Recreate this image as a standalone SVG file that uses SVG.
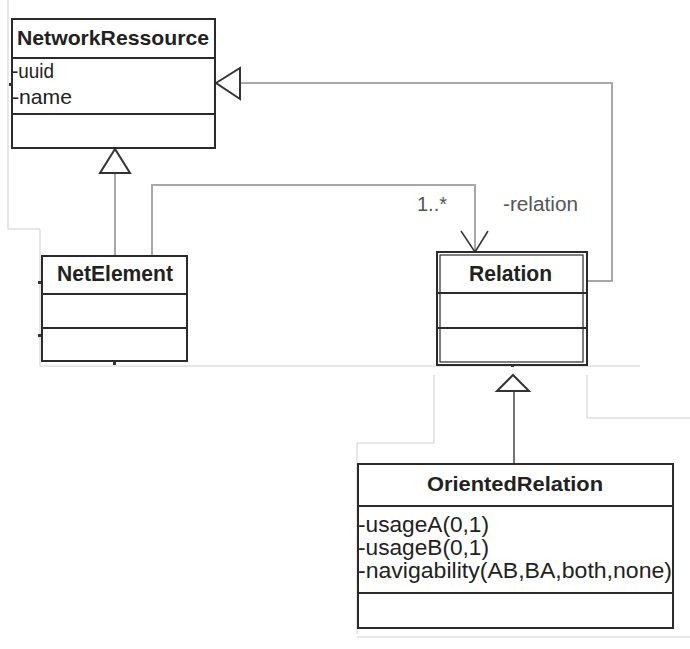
<svg xmlns="http://www.w3.org/2000/svg" width="690" height="649" viewBox="0 0 690 649">
  <style>
    .box { fill: #ffffff; stroke: #2b2b2b; stroke-width: 2; }
    .div { stroke: #2b2b2b; stroke-width: 2; fill: none; }
    .title { font-family: "Liberation Sans", Arial, sans-serif; font-weight: bold; fill: #222; }
    .attr { font-family: "Liberation Sans", Arial, sans-serif; fill: #222; }
    .label { font-family: "Liberation Sans", Arial, sans-serif; fill: #555; font-size: 20px; }
    .edge { stroke: #a8a8a8; stroke-width: 2; fill: none; }
    .edge-dark { stroke: #444; stroke-width: 1.5; fill: none; }
    .gen { fill: #ffffff; stroke: #333; stroke-width: 2; }
    .open { fill: none; stroke: #333; stroke-width: 1.5; }
    .frame { stroke: #cfcfcf; stroke-width: 1; fill: none; }
    .tick { fill: #333; }
  </style>

  <!-- page frame edges -->
  <g id="frame">
    <polyline class="frame" points="8,0 8,229 40,229 40,366 640,366"/>
    <polyline class="frame" points="434,375 434,443 357,443 357,634"/>
    <polyline class="frame" points="357,637 690,637"/>
    <polyline class="frame" points="587,375 587,418 690,418"/>
  </g>

  <!-- connectors -->
  <g id="connectors">
    <!-- NetElement generalizes NetworkRessource -->
    <line class="edge" x1="115" y1="256" x2="115" y2="173"/>
    <polygon class="gen" points="115,149 100,173 130,173"/>
    <!-- NetElement to Relation association -->
    <polyline class="edge" points="152,256 152,185 475,185 475,251"/>
    <polyline class="open" points="461,231 475,252 488,231"/>
    <!-- Relation generalizes NetworkRessource -->
    <polyline class="edge" points="587,281 612,281 612,83 240,83"/>
    <polygon class="gen" points="216,83 240,68 240,99"/>
    <!-- OrientedRelation generalizes Relation -->
    <line class="edge-dark" x1="514" y1="464" x2="514" y2="391"/>
    <polygon class="gen" points="513,375 497,391 529,391"/>
    <text class="label" x="417" y="211" textLength="30" lengthAdjust="spacingAndGlyphs">1..*</text>
    <text class="label" x="503" y="211" textLength="75" lengthAdjust="spacingAndGlyphs">-relation</text>
  </g>

  <!-- NetworkRessource -->
  <g id="NetworkRessource">
    <rect class="box" x="12" y="19" width="203" height="129"/>
    <line class="div" x1="12" y1="58" x2="215" y2="58"/>
    <line class="div" x1="12" y1="114" x2="215" y2="114"/>
    <text class="title" x="17" y="45" font-size="21" textLength="192" lengthAdjust="spacingAndGlyphs">NetworkRessource</text>
    <text class="attr" x="12" y="78" font-size="21" textLength="42" lengthAdjust="spacingAndGlyphs">-uuid</text>
    <text class="attr" x="12" y="104" font-size="21" textLength="60" lengthAdjust="spacingAndGlyphs">-name</text>
    <rect class="tick" x="9" y="83" width="3" height="3"/>
  </g>

  <!-- NetElement -->
  <g id="NetElement">
    <rect class="box" x="42" y="256" width="145" height="105"/>
    <line class="div" x1="42" y1="294" x2="187" y2="294"/>
    <line class="div" x1="42" y1="328" x2="187" y2="328"/>
    <text class="title" x="57" y="281" font-size="22" textLength="116" lengthAdjust="spacingAndGlyphs">NetElement</text>
    <rect class="tick" x="38" y="281" width="3" height="3"/>
    <rect class="tick" x="38" y="334" width="3" height="3"/>
    <rect class="tick" x="113" y="362" width="3" height="3"/>
  </g>

  <!-- Relation -->
  <g id="Relation">
    <rect class="box" x="437" y="252" width="150" height="113"/>
    <rect x="440" y="255" width="143" height="107" fill="none" stroke="#2b2b2b" stroke-width="1.2"/>
    <line class="div" x1="437" y1="293" x2="587" y2="293"/>
    <line class="div" x1="437" y1="328" x2="587" y2="328"/>
    <text class="title" x="469" y="281" font-size="22" textLength="83" lengthAdjust="spacingAndGlyphs">Relation</text>
    <rect class="tick" x="511" y="365" width="3" height="2"/>
  </g>

  <!-- OrientedRelation -->
  <g id="OrientedRelation">
    <rect class="box" x="358" y="464" width="315" height="164"/>
    <line class="div" x1="358" y1="506" x2="673" y2="506"/>
    <line class="div" x1="358" y1="593" x2="673" y2="593"/>
    <text class="title" x="427" y="491" font-size="21" textLength="176" lengthAdjust="spacingAndGlyphs">OrientedRelation</text>
    <text class="attr" x="358" y="532" font-size="22" textLength="131" lengthAdjust="spacingAndGlyphs">-usageA(0,1)</text>
    <text class="attr" x="358" y="555" font-size="22" textLength="131" lengthAdjust="spacingAndGlyphs">-usageB(0,1)</text>
    <text class="attr" x="358" y="578" font-size="22" textLength="314" lengthAdjust="spacingAndGlyphs">-navigability(AB,BA,both,none)</text>
  </g>
</svg>
